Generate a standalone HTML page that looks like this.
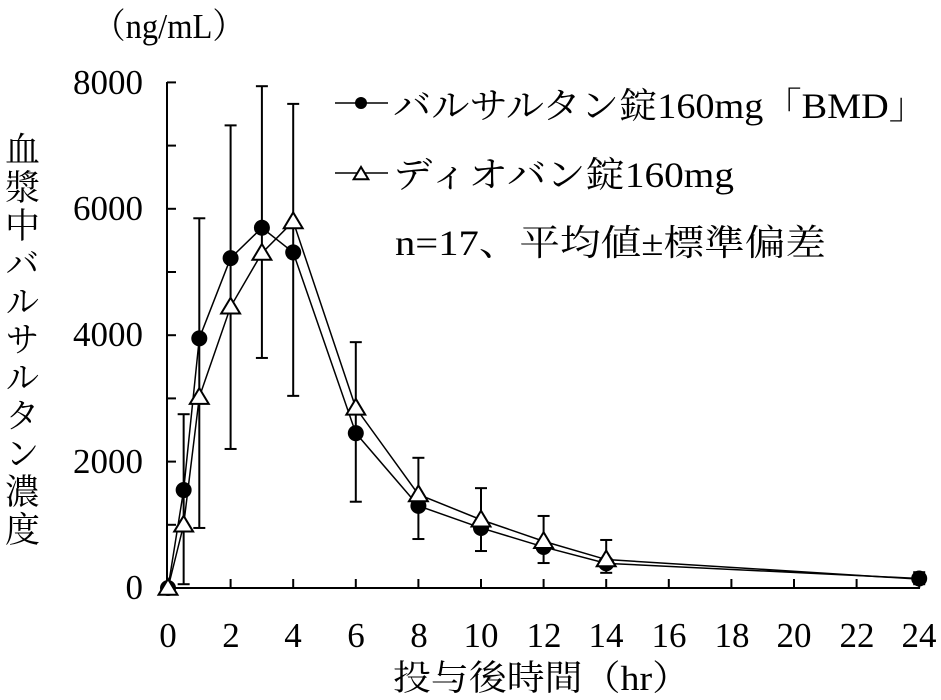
<!DOCTYPE html>
<html><head><meta charset="utf-8"><style>
html,body{margin:0;padding:0;background:#fff;}
svg{display:block;}
text{font-family:"Liberation Serif","Noto Serif CJK SC",serif;fill:#000;}
</style></head><body>
<svg id="s" width="941" height="700" viewBox="0 0 941 700" xmlns="http://www.w3.org/2000/svg">
<g font-size="35">
<text x="93" y="38" textLength="152" lengthAdjust="spacingAndGlyphs">（ng/mL）</text>
<text x="143" y="94" text-anchor="end">8000</text>
<text x="143" y="220" text-anchor="end">6000</text>
<text x="143" y="346" text-anchor="end">4000</text>
<text x="143" y="473" text-anchor="end">2000</text>
<text x="143" y="599" text-anchor="end">0</text>
<g text-anchor="middle">
<text x="168" y="647">0</text><text x="231" y="647">2</text><text x="293" y="647">4</text>
<text x="356" y="647">6</text><text x="419" y="647">8</text><text x="481" y="647">10</text>
<text x="544" y="647">12</text><text x="606" y="647">14</text><text x="669" y="647">16</text>
<text x="732" y="647">18</text><text x="794" y="647">20</text><text x="857" y="647">22</text>
<text x="919" y="647">24</text>
</g>
<text x="393" y="690" textLength="297" lengthAdjust="spacingAndGlyphs">投与後時間（hr）</text>
</g>
<text x="20" y="131" font-size="35" style="writing-mode:vertical-rl;letter-spacing:3px">血漿中バルサルタン濃度</text>
<g font-size="36">
<text x="393" y="118" textLength="534" lengthAdjust="spacingAndGlyphs">バルサルタン錠160mg「BMD」</text>
<text x="393" y="187" textLength="341" lengthAdjust="spacingAndGlyphs">ディオバン錠160mg</text>
<text x="395" y="255" textLength="431" lengthAdjust="spacingAndGlyphs">n=17、平均値±標準偏差</text>
</g>
<g id="g" stroke="#000" stroke-width="2" fill="none"></g>
</svg>
<script>
var g=document.getElementById('g');
function X(t){return 168+t*31.3;}
function Y(v){return 588-v*0.0632;}
var h='';
function L(a,b,c,d,w){h+='<line x1="'+a+'" y1="'+b+'" x2="'+c+'" y2="'+d+'"'+(w?' stroke-width="'+w+'"':'')+'/>';}
L(167,82,167,589);L(167,588,920,588);
for(var k=0;k<=8;k++){L(167,Y(k*1000),176,Y(k*1000));}
for(var t=2;t<=24;t+=2){L(X(t),588,X(t),579);}
var T=[0,0.5,1,2,3,4,6,8,10,12,14,24];
var A=[0,1550,3950,5220,5700,5310,2450,1300,950,650,390,150];
var B=[0,1000,3020,4450,5300,5800,2850,1480,1080,740,450,140];
var EU=[0,2750,5850,7320,7940,7660,3890,2060,1580,1140,760,250];
var ED=[0,60,950,2200,3640,3040,1365,775,585,395,240,60];
for(var i=1;i<T.length;i++){var x=X(T[i]);L(x,Y(EU[i]),x,Y(ED[i]));L(x-6,Y(EU[i]),x+6,Y(EU[i]));L(x-6,Y(ED[i]),x+6,Y(ED[i]));}
function poly(arr){var p=[];for(var i=0;i<T.length;i++)p.push(X(T[i])+','+Y(arr[i]));h+='<polyline points="'+p.join(' ')+'" stroke-width="1.5"/>';}
poly(A);poly(B);
function circ(x,y,r){h+='<circle cx="'+x+'" cy="'+y+'" r="'+r+'" fill="#000" stroke="none"/>';}
function tri(x,y,s){h+='<polygon points="'+x+','+(y-s)+' '+(x-s*1.05)+','+(y+s*0.75)+' '+(x+s*1.05)+','+(y+s*0.75)+'" fill="#fff" stroke-width="2"/>';}
for(var i=0;i<T.length;i++)circ(X(T[i]),Y(A[i]),8);
for(var i=0;i<T.length-1;i++)tri(X(T[i]),Y(B[i]),9);
L(335,103,388,103,1.5);circ(361,103,6);
L(335,173,388,173,1.5);tri(361,174,7);
g.innerHTML=h;
</script>
</body></html>
